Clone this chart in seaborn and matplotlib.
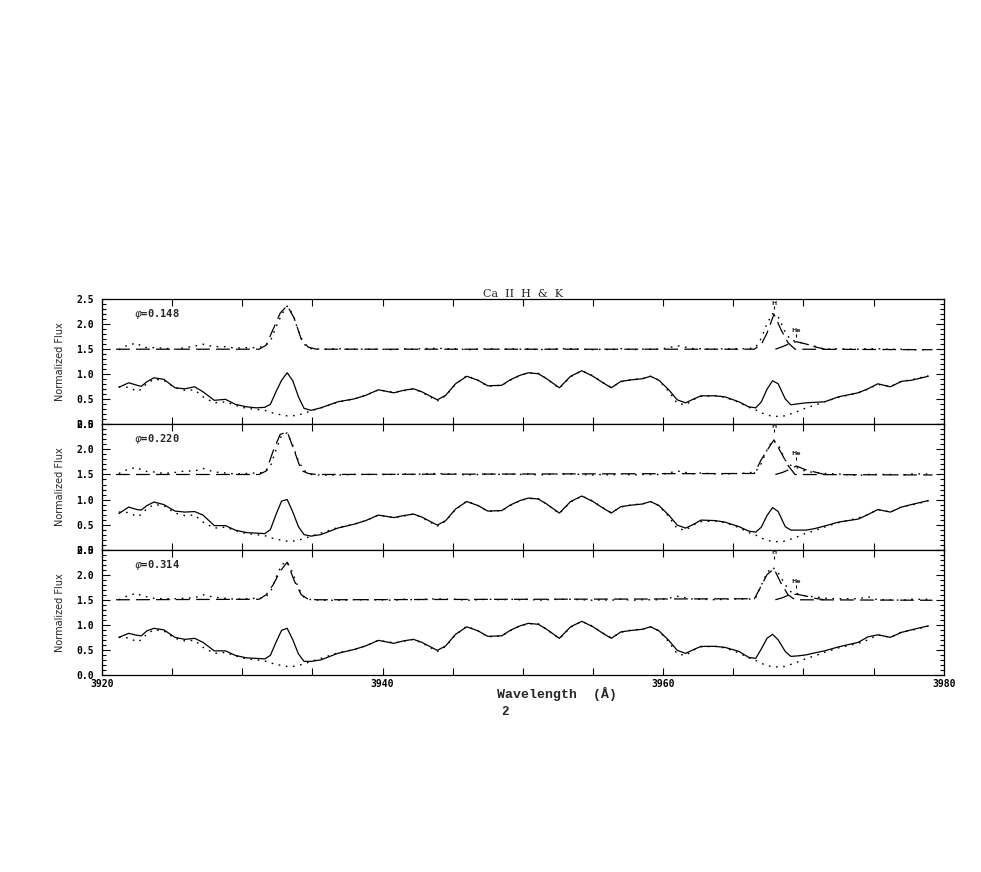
import numpy as np
import pandas as pd
import matplotlib
matplotlib.use('Agg')
import matplotlib.pyplot as plt
import seaborn as sns
from matplotlib.ticker import MultipleLocator, FuncFormatter

# wavelength grid (Angstrom) shared by observed / template / residual spectra
wave = [3921.2, 3921.9, 3922.5, 3922.8, 3923.2, 3923.7, 3924.4, 3925.2, 3925.9, 3926.6,
        3927.2, 3928.0, 3928.8, 3929.5, 3930.3, 3931.0, 3931.6, 3932.0, 3932.4, 3932.8,
        3933.2, 3933.6, 3934.0, 3934.4, 3934.9, 3935.6, 3936.8, 3938.0, 3938.8, 3939.7,
        3940.8, 3941.5, 3942.2, 3942.8, 3943.9, 3944.5, 3945.2, 3946.0, 3946.8, 3947.5,
        3948.5, 3949.1, 3949.8, 3950.4, 3951.1, 3951.7, 3952.6, 3953.4, 3954.2, 3955.0,
        3955.6, 3956.3, 3957.0, 3957.8, 3958.5, 3959.1, 3959.7, 3960.4, 3961.0, 3961.6,
        3962.2, 3962.7, 3963.7, 3964.4, 3965.4, 3966.1, 3966.6, 3967.0, 3967.4, 3967.8,
        3968.2, 3968.7, 3969.1, 3969.6, 3970.2, 3970.8, 3971.5, 3972.5, 3973.9, 3974.6,
        3975.3, 3976.2, 3977.0, 3977.7, 3978.9]

# template (dotted, lower)
template = [0.75, 0.74, 0.66, 0.70, 0.82, 0.90, 0.88, 0.73, 0.68, 0.69,
            0.55, 0.43, 0.45, 0.38, 0.32, 0.30, 0.28, 0.24, 0.21, 0.19,
            0.17, 0.17, 0.19, 0.22, 0.27, 0.33, 0.44, 0.51, 0.58, 0.69,
            0.64, 0.67, 0.71, 0.64, 0.47, 0.57, 0.80, 0.97, 0.88, 0.76,
            0.78, 0.88, 0.98, 1.02, 1.02, 0.91, 0.72, 0.95, 1.07, 0.97,
            0.85, 0.74, 0.85, 0.90, 0.91, 0.96, 0.88, 0.66, 0.42, 0.39,
            0.50, 0.56, 0.57, 0.54, 0.44, 0.34, 0.29, 0.23, 0.19, 0.16,
            0.16, 0.17, 0.21, 0.26, 0.33, 0.38, 0.45, 0.54, 0.63, 0.70,
            0.80, 0.75, 0.86, 0.89, 0.97]

# observed spectra (solid)
obs_148 = [0.74, 0.83, 0.78, 0.76, 0.85, 0.93, 0.90, 0.73, 0.71, 0.75,
           0.65, 0.48, 0.50, 0.40, 0.35, 0.33, 0.34, 0.40, 0.65, 0.88,
           1.03, 0.87, 0.55, 0.32, 0.28, 0.33, 0.45, 0.51, 0.58, 0.69,
           0.63, 0.68, 0.71, 0.65, 0.49, 0.58, 0.81, 0.96, 0.88, 0.77,
           0.78, 0.89, 0.98, 1.03, 1.01, 0.91, 0.73, 0.96, 1.07, 0.96,
           0.85, 0.73, 0.86, 0.89, 0.91, 0.96, 0.88, 0.69, 0.49, 0.43,
           0.51, 0.57, 0.57, 0.55, 0.45, 0.35, 0.33, 0.45, 0.70, 0.87,
           0.81, 0.51, 0.39, 0.41, 0.43, 0.44, 0.45, 0.55, 0.63, 0.71,
           0.81, 0.75, 0.86, 0.88, 0.96]
obs_220 = [0.72, 0.85, 0.80, 0.79, 0.88, 0.95, 0.90, 0.77, 0.75, 0.76,
           0.69, 0.48, 0.48, 0.39, 0.34, 0.33, 0.32, 0.40, 0.70, 0.97,
           1.00, 0.75, 0.46, 0.30, 0.27, 0.30, 0.43, 0.51, 0.58, 0.69,
           0.64, 0.68, 0.71, 0.65, 0.49, 0.58, 0.81, 0.96, 0.88, 0.77,
           0.78, 0.89, 0.98, 1.03, 1.01, 0.91, 0.73, 0.96, 1.07, 0.96,
           0.85, 0.73, 0.86, 0.89, 0.91, 0.96, 0.88, 0.69, 0.49, 0.43,
           0.51, 0.59, 0.58, 0.55, 0.46, 0.37, 0.35, 0.45, 0.68, 0.84,
           0.76, 0.46, 0.39, 0.39, 0.39, 0.42, 0.47, 0.55, 0.61, 0.70,
           0.80, 0.75, 0.85, 0.90, 0.98]
obs_314 = [0.75, 0.83, 0.79, 0.78, 0.88, 0.93, 0.90, 0.75, 0.71, 0.73,
           0.65, 0.48, 0.48, 0.39, 0.34, 0.33, 0.32, 0.39, 0.65, 0.89,
           0.93, 0.70, 0.42, 0.27, 0.27, 0.30, 0.43, 0.51, 0.58, 0.69,
           0.63, 0.68, 0.71, 0.65, 0.49, 0.58, 0.81, 0.96, 0.88, 0.77,
           0.78, 0.89, 0.98, 1.03, 1.01, 0.91, 0.73, 0.96, 1.07, 0.96,
           0.85, 0.73, 0.86, 0.89, 0.91, 0.96, 0.88, 0.69, 0.49, 0.43,
           0.51, 0.57, 0.57, 0.55, 0.47, 0.35, 0.33, 0.52, 0.73, 0.81,
           0.70, 0.47, 0.37, 0.38, 0.40, 0.44, 0.48, 0.56, 0.65, 0.76,
           0.80, 0.75, 0.85, 0.90, 0.98]

# residual (observed - template, shifted up), dotted upper
resid_148 = [1.49, 1.59, 1.62, 1.56, 1.53, 1.53, 1.52, 1.50, 1.53, 1.56,
             1.60, 1.55, 1.55, 1.52, 1.53, 1.53, 1.56, 1.66, 1.94, 2.19,
             2.36, 2.20, 1.86, 1.60, 1.51, 1.50, 1.51, 1.50, 1.50, 1.50,
             1.49, 1.51, 1.50, 1.51, 1.52, 1.51, 1.51, 1.49, 1.50, 1.51,
             1.50, 1.51, 1.50, 1.51, 1.49, 1.50, 1.51, 1.51, 1.50, 1.49,
             1.50, 1.49, 1.51, 1.49, 1.50, 1.50, 1.50, 1.53, 1.57, 1.54,
             1.51, 1.51, 1.50, 1.51, 1.51, 1.51, 1.54, 1.72, 2.01, 2.21,
             2.15, 1.84, 1.68, 1.65, 1.60, 1.56, 1.50, 1.51, 1.50, 1.51,
             1.51, 1.50, 1.50, 1.49, 1.49]
resid_220 = [1.52, 1.61, 1.64, 1.59, 1.56, 1.55, 1.52, 1.54, 1.57, 1.57,
             1.62, 1.55, 1.53, 1.51, 1.52, 1.53, 1.54, 1.66, 1.99, 2.28,
             2.33, 2.08, 1.77, 1.58, 1.50, 1.49, 1.49, 1.50, 1.50, 1.50,
             1.50, 1.51, 1.50, 1.51, 1.52, 1.51, 1.51, 1.49, 1.50, 1.51,
             1.50, 1.51, 1.50, 1.51, 1.49, 1.50, 1.51, 1.51, 1.50, 1.49,
             1.50, 1.49, 1.51, 1.49, 1.50, 1.50, 1.50, 1.53, 1.57, 1.54,
             1.51, 1.53, 1.51, 1.51, 1.52, 1.53, 1.56, 1.72, 1.99, 2.18,
             2.10, 1.79, 1.68, 1.63, 1.56, 1.54, 1.52, 1.51, 1.48, 1.50,
             1.50, 1.50, 1.49, 1.51, 1.51]
resid_314 = [1.50, 1.59, 1.63, 1.58, 1.56, 1.53, 1.52, 1.52, 1.53, 1.54,
             1.60, 1.55, 1.53, 1.51, 1.52, 1.53, 1.54, 1.65, 1.94, 2.20,
             2.26, 2.03, 1.73, 1.55, 1.50, 1.49, 1.49, 1.50, 1.50, 1.50,
             1.49, 1.51, 1.50, 1.51, 1.52, 1.51, 1.51, 1.49, 1.50, 1.51,
             1.50, 1.51, 1.50, 1.51, 1.49, 1.50, 1.51, 1.51, 1.50, 1.49,
             1.50, 1.49, 1.51, 1.49, 1.50, 1.50, 1.50, 1.53, 1.57, 1.54,
             1.51, 1.51, 1.50, 1.51, 1.52, 1.51, 1.54, 1.79, 2.04, 2.15,
             2.04, 1.80, 1.66, 1.62, 1.57, 1.56, 1.53, 1.52, 1.52, 1.56,
             1.50, 1.50, 1.49, 1.51, 1.51]

# emission fit (dashed) for K and H cores
fit_wave = [3921.0, 3931.2, 3931.7, 3932.2, 3932.7, 3933.2, 3933.7, 3934.2, 3934.7, 3935.3,
            3966.5, 3967.0, 3967.4, 3967.9, 3968.4, 3968.9, 3969.4, 3979.2]
fit_148 = [1.50, 1.50, 1.58, 1.90, 2.22, 2.37, 2.12, 1.70, 1.54, 1.50,
           1.50, 1.60, 1.82, 2.20, 1.89, 1.63, 1.50, 1.49]
fit_220 = [1.50, 1.50, 1.57, 1.97, 2.30, 2.35, 1.98, 1.58, 1.52, 1.50,
           1.52, 1.80, 1.98, 2.19, 1.94, 1.68, 1.50, 1.49]
fit_314 = [1.50, 1.51, 1.60, 1.80, 2.07, 2.25, 1.88, 1.60, 1.51, 1.50,
           1.52, 1.78, 2.00, 2.12, 1.83, 1.60, 1.50, 1.49]

# H-epsilon component (dashed)
he_wave = [3968.0, 3968.5, 3969.0, 3969.5, 3970.1, 3970.8, 3971.5]
he_148 = [1.50, 1.55, 1.61, 1.65, 1.61, 1.55, 1.50]
he_220 = [1.50, 1.54, 1.60, 1.67, 1.60, 1.55, 1.50]
he_314 = [1.50, 1.54, 1.60, 1.61, 1.58, 1.53, 1.50]

phases = ['0.148', '0.220', '0.314']
h_center = 3967.9
he_center = 3969.5

panels = [
    dict(obs=obs_148, resid=resid_148, fit=fit_148, he=he_148, h_lab=2.42, he_lab=1.88),
    dict(obs=obs_220, resid=resid_220, fit=fit_220, he=he_220, h_lab=2.46, he_lab=1.92),
    dict(obs=obs_314, resid=resid_314, fit=fit_314, he=he_314, h_lab=2.44, he_lab=1.87),
]

sns.set_theme(style='ticks')
plt.rcParams['font.family'] = ['DejaVu Sans Mono', 'DejaVu Sans']
plt.rcParams['axes.linewidth'] = 0.9

DOT = (0, (1.2, 4.0))
DASH = (0, (11, 5))

fig, axes = plt.subplots(3, 1, figsize=(9.81, 8.72), dpi=100, sharex=True)
fig.subplots_adjust(left=0.104, right=0.962, top=0.657, bottom=0.226, hspace=0)

for i, (ax, p) in enumerate(zip(axes, panels)):
    df = pd.DataFrame({'wave': wave, 'obs': p['obs'], 'template': template, 'resid': p['resid']})
    sns.lineplot(data=df, x='wave', y='obs', ax=ax, color='black', lw=0.9, estimator=None, sort=False)
    sns.lineplot(data=df, x='wave', y='template', ax=ax, color='black', lw=1.0,
                 linestyle=DOT, estimator=None, sort=False)
    sns.lineplot(data=df, x='wave', y='resid', ax=ax, color='black', lw=1.0,
                 linestyle=DOT, estimator=None, sort=False)
    sns.lineplot(x=fit_wave, y=p['fit'], ax=ax, color='black', lw=0.9,
                 linestyle=DASH, estimator=None, sort=False)
    sns.lineplot(x=he_wave, y=p['he'], ax=ax, color='black', lw=0.9,
                 linestyle=DASH, estimator=None, sort=False)

    ax.set_xlim(3920, 3980)
    ax.set_ylim(0, 2.5)
    ax.xaxis.set_major_locator(MultipleLocator(5))
    ax.yaxis.set_major_locator(MultipleLocator(0.5))
    ax.yaxis.set_minor_locator(MultipleLocator(0.1))
    ax.yaxis.set_major_formatter(FuncFormatter(lambda v, pos: f'{v:.1f}'))
    ax.xaxis.set_major_formatter(FuncFormatter(lambda v, pos: f'{v:.0f}' if round(v) % 20 == 0 else ''))
    ax.tick_params(axis='both', which='both', direction='in', top=True, right=True,
                   labelsize=7, width=0.8, colors='black')
    ax.tick_params(axis='x', which='major', length=5, pad=3)
    ax.tick_params(axis='y', which='major', length=6, pad=6)
    ax.tick_params(axis='y', which='minor', length=3)
    for lab in ax.get_xticklabels() + ax.get_yticklabels():
        lab.set_fontweight('bold')
    for s in ax.spines.values():
        s.set_color('black')

    ax.set_xlabel('')
    ax.set_ylabel('Normalized Flux', family='DejaVu Sans', fontsize=7)
    ax.yaxis.set_label_coords(-0.044, 0.5)

    ax.text(3922.3, 2.2, r'$\varphi$=' + phases[i], fontsize=7.5, va='center', ha='left',
            weight='bold')

    # line identifications
    ax.text(h_center, p['h_lab'], 'H', fontsize=4.5, weight='bold', ha='center', va='center',
            family='DejaVu Sans')
    ax.vlines(h_center, p['h_lab'] - 0.12, p['h_lab'] - 0.06, color='black', lw=0.8)
    ax.text(he_center, p['he_lab'], 'He', fontsize=4.5, weight='bold', ha='center', va='center',
            family='DejaVu Sans')
    ax.vlines(he_center, p['he_lab'] - 0.13, p['he_lab'] - 0.07, color='black', lw=0.8)

for ax in axes[:-1]:
    ax.tick_params(axis='x', labelbottom=False)

fig.text(523 / 981, 1 - 294 / 872, 'Ca  II  H  &  K', family='DejaVu Serif', fontsize=8,
         ha='center', va='center')
fig.text(557 / 981, 1 - 694 / 872, 'Wavelength  (Å)', family='Liberation Mono', weight='bold',
         fontsize=9.5, ha='center', va='center')
fig.text(505 / 981, 1 - 712 / 872, '2', family='Liberation Mono', weight='bold',
         fontsize=9, ha='center', va='center')

fig.savefig('out.png', dpi=100, facecolor='white')
